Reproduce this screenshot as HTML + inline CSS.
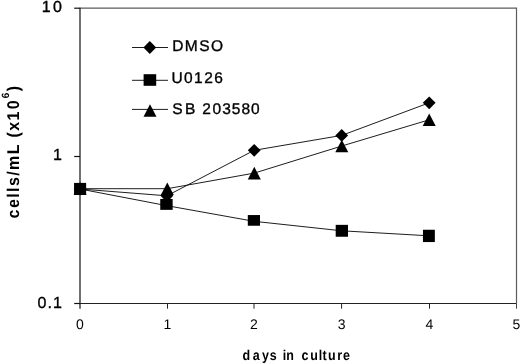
<!DOCTYPE html>
<html><head><meta charset="utf-8"><title>chart</title><style>html,body{margin:0;padding:0;background:#fff}svg{display:block}</style></head><body>
<svg width="520" height="364" viewBox="0 0 520 364">
<rect width="520" height="364" fill="#fff"/>
<g fill="none" stroke-width="1">
<path d="M80.0 8.2H516.5V303.5" stroke="#5c5c5c" stroke-width="1.2"/>
<path d="M80.0 7.7V308.8" stroke="#111" stroke-width="1.2"/>
<path d="M80.0 303.5H516.5" stroke="#222" stroke-width="1.1"/>
<path d="M74.2 8.2H80.0" stroke="#111" stroke-width="1.2"/>
<path d="M74.2 156.5H80.0" stroke="#111" stroke-width="1.2"/>
<path d="M74.2 303.5H80.0" stroke="#111" stroke-width="1.2"/>
<path d="M167.5 303.5V308.7" stroke="#222"/>
<path d="M254.0 303.5V308.7" stroke="#222"/>
<path d="M341.6 303.5V308.7" stroke="#222"/>
<path d="M429.5 303.5V308.7" stroke="#222"/>
<path d="M516.5 303.5V308.7" stroke="#444"/>
</g>
<g fill="none" stroke="#111" stroke-width="0.95">
<polyline points="80.1,189.0 166.9,195.8 254.2,150.3 341.7,135.4 429.2,102.8"/>
<polyline points="80.1,189.0 166.5,205.6 254.0,221.3 341.9,230.8 428.9,235.8"/>
<polyline points="80.1,188.7 167.3,188.7 254.3,173.1 341.8,146.0 429.2,119.8"/>
<path d="M132 47.5H168"/>
<path d="M132 80.3H168"/>
<path d="M132 109.4H168"/>
</g>
<g fill="#000">
<polygon points="80.1,182.6 86.5,189.0 80.1,195.4 73.7,189.0"/>
<polygon points="166.9,189.4 173.3,195.8 166.9,202.2 160.5,195.8"/>
<polygon points="254.2,143.9 260.6,150.3 254.2,156.7 247.8,150.3"/>
<polygon points="341.7,129.0 348.1,135.4 341.7,141.8 335.3,135.4"/>
<polygon points="429.2,96.4 435.6,102.8 429.2,109.2 422.8,102.8"/>
<polygon points="80.1,182.4 86.6,195.0 73.6,195.0"/>
<polygon points="167.3,182.4 173.8,195.0 160.8,195.0"/>
<polygon points="254.3,166.8 260.8,179.4 247.8,179.4"/>
<polygon points="341.8,139.7 348.3,152.3 335.3,152.3"/>
<polygon points="429.2,113.5 435.7,126.1 422.7,126.1"/>
<rect x="74.05" y="182.90" width="12.10" height="12.00"/>
<rect x="160.25" y="198.95" width="12.40" height="10.90"/>
<rect x="247.80" y="215.05" width="12.20" height="10.70"/>
<rect x="335.70" y="224.85" width="12.30" height="11.90"/>
<rect x="422.95" y="229.75" width="11.90" height="12.30"/>
<polygon points="149.8,41.1 156.2,47.5 149.8,53.9 143.4,47.5"/>
<rect x="143.60" y="74.20" width="12.60" height="11.60"/>
<polygon points="150.0,104.2 156.5,116.8 143.5,116.8"/>
</g>
<g font-family="'Liberation Sans', Arial, sans-serif" fill="#000" stroke="#000" stroke-width="0.35" text-rendering="geometricPrecision">
<g font-size="16" letter-spacing="1.1">
<text x="41.8" y="12.4" letter-spacing="2.3" id="y10">10</text>
<text x="52.9" y="160" id="y1">1</text>
<text x="37.4" y="307.6" id="y01">0.1</text>
<text x="172.2" y="51.0" font-size="15.5" letter-spacing="1.45" id="l1">DMSO</text>
<text x="171.4" y="83.3" font-size="15.5" letter-spacing="1.45" id="l2">U0126</text>
<text x="172.2" y="113.6" font-size="15.5" letter-spacing="1.25" dx="0 1.3 0 0 0.3 0 -0.5 0 -0.5" id="l3">SB 203580</text>
</g>
<g font-size="14" text-anchor="middle" stroke-width="0">
<text x="80.0" y="328.6" id="x0">0</text>
<text x="167.5" y="328.6" id="x1">1</text>
<text x="254.0" y="328.6" id="x2">2</text>
<text x="341.6" y="328.6" id="x3">3</text>
<text x="429.5" y="328.6" id="x4">4</text>
<text x="516.5" y="328.6" id="x5">5</text>
</g>
<g font-size="14.67" font-weight="bold" stroke-width="0">
<text transform="translate(242.5,359.6) scale(0.88,1)" font-size="14.2" letter-spacing="1.75" dx="0 1.1 0.9 -0.6 0 -0.6 -1.7 0 1 0.5 -0.9 -1.5 -0.2 0 -0.6" id="xl">days in culture</text>
<text transform="translate(19.4,218.4) rotate(-90) scale(0.94,1)" font-size="17" letter-spacing="1.5" dx="0 0 0 0 0 0 0 0 0 0 0 0 0.9" id="yl">cells/mL (x10<tspan font-size="10.5" dy="-10.4" dx="0.8">6</tspan><tspan dy="10.4">)</tspan></text>
</g>
</g>
</svg>
</body></html>
